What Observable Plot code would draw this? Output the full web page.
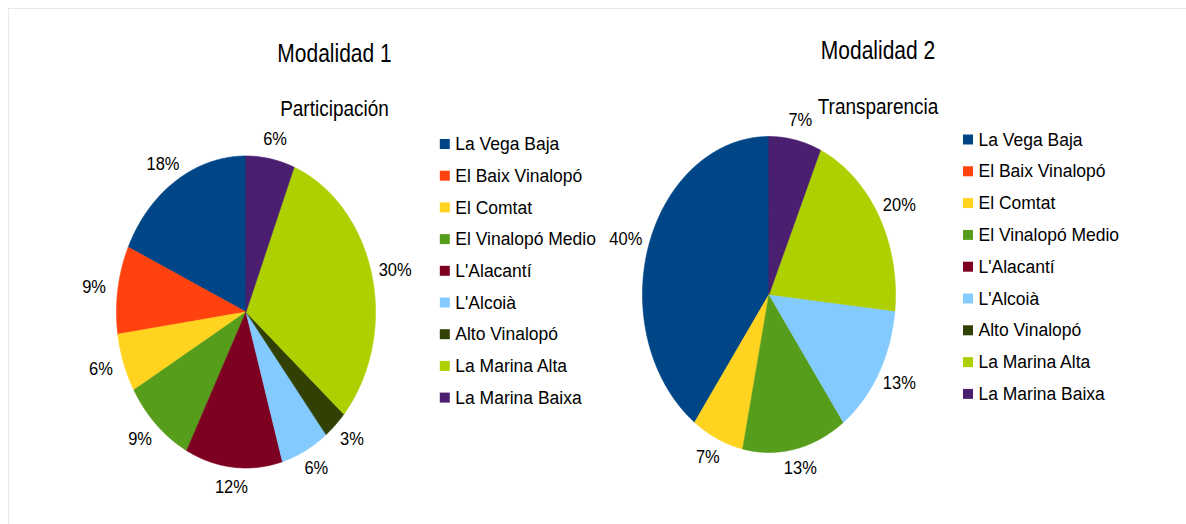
<!DOCTYPE html>
<html><head><meta charset="utf-8">
<script src="https://cdn.jsdelivr.net/npm/d3@7"></script>
<script src="https://cdn.jsdelivr.net/npm/@observablehq/plot@0.6"></script>
<style>
html,body{margin:0;padding:0;background:#fff;overflow:hidden}
#wrap{position:relative;width:1186px;height:524px;overflow:hidden;background:#fff}
#chart{position:absolute;left:0;top:0}
#frame{position:absolute;left:8px;top:8px;width:1300px;height:700px;border:1px solid #e9e9e9;pointer-events:none}
</style></head><body>
<div id="wrap"><div id="chart"></div><div id="frame"></div></div>
<script>
// ---- data ----
const categories = ["La Vega Baja","El Baix Vinalopó","El Comtat","El Vinalopó Medio","L'Alacantí","L'Alcoià","Alto Vinalopó","La Marina Alta","La Marina Baixa"];
const palette = ["#004586","#ff420e","#ffd320","#579d1c","#7e0021","#83caff","#314004","#aecf00","#4b1f6f"];
const modalidad1 = [6, 3, 2, 3, 4, 2, 1, 10, 2];   // Participación
const modalidad2 = [6, 0, 1, 2, 0, 2, 0, 3, 1];    // Transparencia
const chartTitles = ["Modalidad 1", "Modalidad 2"];
const chartSubtitles = ["Participación", "Transparencia"];

// ---- layout ----
const W = 1186, H = 524;
const pies = [
  {values: modalidad1, title: chartTitles[0], subtitle: chartSubtitles[0],
   cx: 245.5, cy: 311.5, rx: 129.5, ry: 156, titleX: 334, titleY: 53, subY: 108.5,
   legendX: 444.3, legendY: 143.5, legendStep: 31.7},
  {values: modalidad2, title: chartTitles[1], subtitle: chartSubtitles[1],
   cx: 768.5, cy: 294, rx: 126.5, ry: 158, titleX: 877.5, titleY: 50, subY: 106,
   legendX: 967.5, legendY: 139, legendStep: 31.8}
];

const slicePts = [], labels = [], legend = [];
pies.forEach((p, pi) => {
  const total = d3.sum(p.values);
  let acc = 0;
  p.values.forEach((v, i) => {
    const t0 = acc / total, t1 = (acc + v) / total;
    acc += v;
    if (v <= 0) return;
    const key = pi + "-" + i;
    slicePts.push({key, cat: categories[i], px: p.cx, py: p.cy});
    const n = Math.max(2, Math.ceil((t1 - t0) * 720));
    for (let k = 0; k <= n; k++) {
      const a = 2 * Math.PI * (t0 + (t1 - t0) * k / n);
      slicePts.push({key, cat: categories[i], px: p.cx - p.rx * Math.sin(a), py: p.cy - p.ry * Math.cos(a)});
    }
    const am = Math.PI * (t0 + t1);
    labels.push({text: Math.round(100 * v / total) + "%",
                 px: p.cx - (p.rx + 24) * Math.sin(am), py: p.cy - (p.ry + 20) * Math.cos(am)});
  });
  categories.forEach((c, i) => legend.push({cat: c, px: p.legendX, py: p.legendY + i * p.legendStep}));
});

const plot = Plot.plot({
  width: W, height: H, margin: 0,
  x: {domain: [0, W], range: [0, W], axis: null},
  y: {domain: [0, H], range: [0, H], axis: null},
  color: {domain: categories, range: palette},
  style: {fontFamily: "'Liberation Sans', Arial, sans-serif", background: "transparent"},
  marks: [
    Plot.line(slicePts, {x: "px", y: "py", z: "key", fill: "cat", stroke: "cat", strokeWidth: 0.6, curve: "linear-closed"}),
    Plot.text(labels, {x: "px", y: "py", text: "text", fontSize: 16.5, fill: "#000", lineAnchor: "middle"}),
    Plot.dot(legend, {x: "px", y: "py", fill: "cat", symbol: "square", r: 5.64}),
    Plot.text(legend, {x: "px", y: "py", text: "cat", dx: 10.5, textAnchor: "start", fontSize: 17.5, fill: "#000", lineAnchor: "middle"}),
    Plot.text(pies, {x: "titleX", y: "titleY", text: "title", fontSize: 21, fill: "#000", lineAnchor: "middle"}),
    Plot.text(pies, {x: "titleX", y: "subY", text: "subtitle", fontSize: 19, fill: "#000", lineAnchor: "middle"})
  ]
});
document.getElementById("chart").appendChild(plot);

// the reference text is slightly stretched vertically
plot.querySelectorAll("text").forEach(el => {
  const g = el.closest("g[font-size]");
  const fs = g ? parseFloat(g.getAttribute("font-size")) : 10;
  const k = fs >= 19 ? 1.2 : 1.1;
  const t = el.getAttribute("transform") || "";
  el.setAttribute("transform", `${t} scale(1,${k})`);
});
</script>
</body></html>
